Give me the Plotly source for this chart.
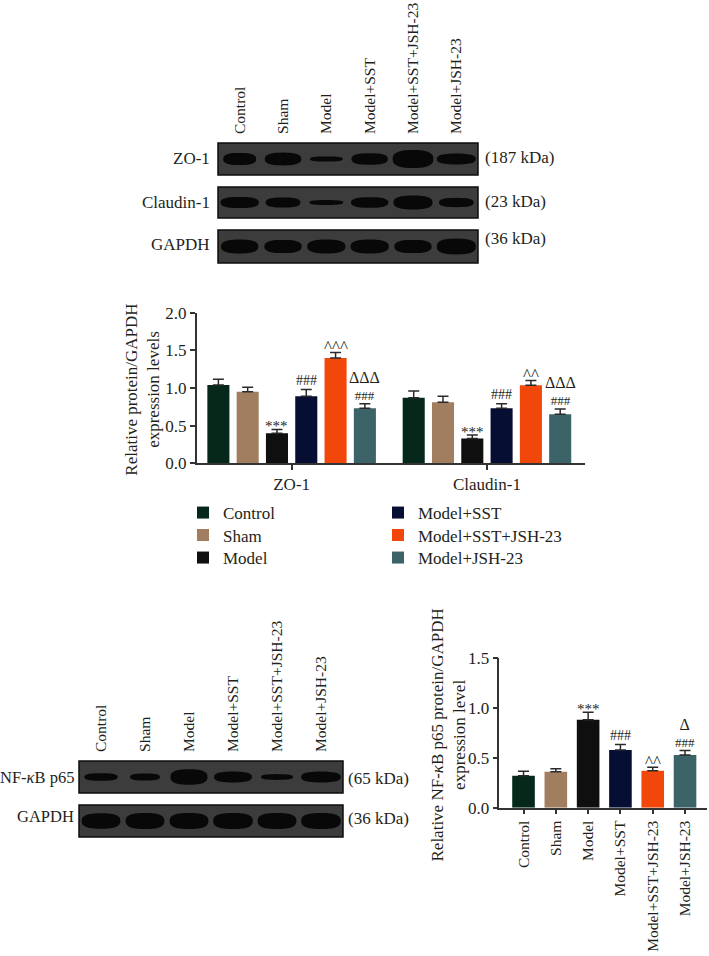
import numpy as np
import plotly.graph_objects as go

W, H = 709, 956

# ---------------- data ----------------
groups = ["Control", "Sham", "Model", "Model+SST", "Model+SST+JSH-23", "Model+JSH-23"]
colors = ["#05281b", "#a27e61", "#0f0f10", "#070e33", "#f1470b", "#3c6367"]

proteins = ["ZO-1", "Claudin-1"]
zo1_mean = [1.04, 0.95, 0.40, 0.89, 1.40, 0.73]
zo1_err = [0.075, 0.06, 0.05, 0.09, 0.07, 0.06]
cldn_mean = [0.87, 0.81, 0.33, 0.73, 1.035, 0.65]
cldn_err = [0.09, 0.08, 0.045, 0.06, 0.065, 0.07]
zo1_sig = ["", "", "***", "###", "^^^", "###"]
zo1_sig2 = ["", "", "", "", "", "ΔΔΔ"]
cldn_sig = ["", "", "***", "###", "^^", "###"]
cldn_sig2 = ["", "", "", "", "", "ΔΔΔ"]

nfkb_mean = [0.32, 0.36, 0.88, 0.577, 0.37, 0.527]
nfkb_err = [0.045, 0.03, 0.075, 0.055, 0.035, 0.045]
nfkb_sig = ["", "", "***", "###", "^^", "###"]
nfkb_sig2 = ["", "", "", "", "", "Δ"]

# western blot rows: band heights (fraction of strip), band widths (fraction of lane)
blot_top_rows = ["ZO-1", "Claudin-1", "GAPDH"]
blot_top_kda = ["(187 kDa)", "(23 kDa)", "(36 kDa)"]
zo1_band_h = [0.38, 0.40, 0.16, 0.36, 0.56, 0.34]
zo1_band_w = [0.76, 0.84, 0.76, 0.84, 0.94, 0.90]
cldn_band_h = [0.36, 0.33, 0.16, 0.34, 0.45, 0.30]
cldn_band_w = [0.88, 0.80, 0.78, 0.86, 0.90, 0.80]
gapdh1_band_h = [0.42, 0.40, 0.42, 0.42, 0.40, 0.48]
gapdh1_band_w = [0.86, 0.86, 0.88, 0.88, 0.86, 0.90]

blot_bot_rows = ["NF-<i>κ</i>B p65", "GAPDH"]
blot_bot_kda = ["(65 kDa)", "(36 kDa)"]
nfkb_band_h = [0.24, 0.22, 0.48, 0.34, 0.18, 0.34]
nfkb_band_w = [0.76, 0.68, 0.84, 0.86, 0.73, 0.90]
gapdh2_band_h = [0.48, 0.50, 0.50, 0.50, 0.50, 0.50]
gapdh2_band_w = [0.88, 0.88, 0.88, 0.90, 0.88, 0.90]

FONT = "Liberation Serif"
TXT = "#231f20"
FS = 17
FS_LANE = 15.5


def xd(a, b):
    return [a / W, b / W]


def yd(top, bottom):
    return [1 - bottom / H, 1 - top / H]


def py(p):
    return 1 - p / H


def band_path(cx, hw, hh, n=48, p=2.6):
    t = np.linspace(0, 2 * np.pi, n, endpoint=False)
    c, s = np.cos(t), np.sin(t)
    xs = cx + hw * np.sign(c) * np.abs(c) ** (2 / p)
    ys = hh * np.sign(s) * np.abs(s) ** (2 / p)
    return "M" + "L".join(f"{x:.4f},{y:.4f}" for x, y in zip(xs, ys)) + "Z"


# vertical offsets (px) of significance marks above the error-bar tops
SIG_SHIFT = {"***": 3, "###": 9, "^^^": 6, "^^": 6}
SIG_FS = {"***": 15, "###": 14, "^^^": 17, "^^": 17}


def sig_ann(x, y, xref, yref, text, upper=""):
    if upper:
        # stacked pair: upper symbol line over "###"
        return dict(x=x, y=y, xref=xref, yref=yref,
                    text=f"<span style='font-size:16px'>{upper}</span><br>{text}",
                    showarrow=False, yanchor="bottom", yshift=0, borderpad=0,
                    font=dict(family=FONT, size=13, color=TXT))
    return dict(x=x, y=y, xref=xref, yref=yref, text=text, showarrow=False,
                yanchor="middle", yshift=SIG_SHIFT[text],
                font=dict(family=FONT, size=SIG_FS[text], color=TXT))


fig = go.Figure()
annotations = []
shapes = []
legend_rows = [("legend", 183, 513), ("legend2", 183, 535.5), ("legend3", 183, 558),
               ("legend4", 378, 513), ("legend5", 378, 535.5), ("legend6", 378, 558)]

# ---------------- top grouped bar chart ----------------
pitch = 0.15
for i, g in enumerate(groups):
    off = (i - 2.5) * pitch
    fig.add_trace(go.Bar(
        x=[k + off for k in range(len(proteins))],
        y=[zo1_mean[i], cldn_mean[i]],
        width=0.113,
        name=g,
        marker=dict(color=colors[i], line=dict(width=0)),
        error_y=dict(type="data", array=[zo1_err[i], cldn_err[i]], arrayminus=[0, 0],
                     symmetric=False, color="#2a2a2a", thickness=1.5, width=5.5),
        xaxis="x", yaxis="y",
        legend=legend_rows[i][0],
        showlegend=True,
    ))
    for k, (m, e, s1, s2) in enumerate([(zo1_mean[i], zo1_err[i], zo1_sig[i], zo1_sig2[i]),
                                         (cldn_mean[i], cldn_err[i], cldn_sig[i], cldn_sig2[i])]):
        if s1:
            annotations.append(sig_ann(k + off, m + e, "x", "y", s1, s2))

# ---------------- bottom bar chart ----------------
for i, g in enumerate(groups):
    fig.add_trace(go.Bar(
        x=[g], y=[nfkb_mean[i]], width=0.7, name=g,
        marker=dict(color=colors[i], line=dict(width=0)),
        error_y=dict(type="data", array=[nfkb_err[i]], arrayminus=[0], symmetric=False,
                     color="#2a2a2a", thickness=1.5, width=5.5),
        xaxis="x2", yaxis="y2", showlegend=False,
    ))
    if nfkb_sig[i]:
        annotations.append(sig_ann(g, nfkb_mean[i] + nfkb_err[i], "x2", "y2",
                                   nfkb_sig[i], nfkb_sig2[i]))

# ---------------- western blots ----------------
blots = [
    ("3", (218, 478), (143, 175), zo1_band_h, zo1_band_w),
    ("4", (218, 478), (187, 218), cldn_band_h, cldn_band_w),
    ("5", (218, 478), (230, 263), gapdh1_band_h, gapdh1_band_w),
    ("6", (79, 343), (761, 793), nfkb_band_h, nfkb_band_w),
    ("7", (79, 343), (805, 837), gapdh2_band_h, gapdh2_band_w),
]
layout_axes = {}
for ax, xs, ys, bh, bw in blots:
    fig.add_trace(go.Scatter(x=[0, 5], y=[0, 0], mode="markers", marker=dict(opacity=0),
                             xaxis="x" + ax, yaxis="y" + ax, showlegend=False, hoverinfo="skip"))
    shapes.append(dict(type="rect", xref=f"x{ax} domain", yref=f"y{ax} domain",
                       x0=0, x1=1, y0=0, y1=1, fillcolor="#3c3c3c",
                       line=dict(color="#0c0c0c", width=1.5), layer="below"))
    for i in range(len(groups)):
        shapes.append(dict(type="path", xref="x" + ax, yref="y" + ax,
                           path=band_path(i, bw[i] / 2, bh[i]),
                           fillcolor="#080808", line=dict(width=0), layer="above"))
    is_top = ax in ("3", "6")
    layout_axes["xaxis" + ax] = dict(
        domain=xd(*xs), range=[-0.5, 5.5], anchor="y" + ax, automargin=False,
        visible=is_top, side="top", showline=False, showgrid=False, zeroline=False,
        ticks="", tickvals=list(range(len(groups))), ticktext=groups, tickangle=-90,
        ticklabelstandoff=8, tickfont=dict(family=FONT, size=FS_LANE, color=TXT), fixedrange=True)
    layout_axes["yaxis" + ax] = dict(domain=yd(*ys), range=[-1, 1], anchor="x" + ax,
                                     visible=False, fixedrange=True, automargin=False)

# blot row labels / weights
top_label_y = [158, 202.5, 245]
top_kda_y = [157, 202, 238]
for r, lab in enumerate(blot_top_rows):
    annotations.append(dict(x=212 / W, y=py(top_label_y[r]), xref="paper", yref="paper",
                            text=lab, showarrow=False, xanchor="right", yanchor="middle",
                            font=dict(family=FONT, size=FS, color=TXT)))
    annotations.append(dict(x=483 / W, y=py(top_kda_y[r]), xref="paper", yref="paper",
                            text=blot_top_kda[r], showarrow=False, xanchor="left", yanchor="middle",
                            font=dict(family=FONT, size=FS, color=TXT)))
bot_label_y = [777, 816]
bot_kda_y = [778, 818]
for r, lab in enumerate(blot_bot_rows):
    annotations.append(dict(x=76 / W, y=py(bot_label_y[r]), xref="paper", yref="paper",
                            text=lab, showarrow=False, xanchor="right", yanchor="middle",
                            font=dict(family=FONT, size=16.5, color=TXT)))
    annotations.append(dict(x=346 / W, y=py(bot_kda_y[r]), xref="paper", yref="paper",
                            text=blot_bot_kda[r], showarrow=False, xanchor="left", yanchor="middle",
                            font=dict(family=FONT, size=FS, color=TXT)))

# y titles
annotations.append(dict(x=141.7 / W, y=py(390), xref="paper", yref="paper",
                        text="Relative protein/GAPDH<br>expression levels", textangle=-90,
                        showarrow=False, xanchor="center", yanchor="middle",
                        font=dict(family=FONT, size=FS, color=TXT)))
annotations.append(dict(x=447.5 / W, y=py(735), xref="paper", yref="paper",
                        text="Relative NF-<i>κ</i>B p65 protein/GAPDH<br>expression level", textangle=-90,
                        showarrow=False, xanchor="center", yanchor="middle",
                        font=dict(family=FONT, size=FS, color=TXT)))

axis_common = dict(showline=True, linecolor="#333333", linewidth=1.5, showgrid=False,
                   zeroline=False, tickcolor="#333333", tickwidth=1.5, automargin=False,
                   fixedrange=True)

legends = {}
for name, lx, ly in legend_rows:
    legends[name] = dict(x=lx / W, y=py(ly), xanchor="left", yanchor="middle", orientation="v",
                         font=dict(family=FONT, size=FS, color=TXT), bgcolor="rgba(0,0,0,0)",
                         itemclick=False, itemdoubleclick=False)

fig.update_layout(
    width=W, height=H, margin=dict(l=0, r=0, t=0, b=0, autoexpand=False),
    paper_bgcolor="white", plot_bgcolor="rgba(0,0,0,0)",
    barmode="overlay",
    font=dict(family=FONT, size=FS, color=TXT),
    xaxis=dict(domain=xd(196.7, 585), range=[-0.486, 1.502], anchor="y",
               tickvals=list(range(len(proteins))), ticktext=proteins,
               ticks="outside", ticklen=5, tickfont=dict(family=FONT, size=FS, color=TXT),
               **axis_common),
    yaxis=dict(domain=yd(312.7, 463.3), range=[0, 2.0], anchor="x", dtick=0.5,
               tickformat=".1f", ticks="outside", ticklen=5,
               tickfont=dict(family=FONT, size=FS, color=TXT), **axis_common),
    xaxis2=dict(domain=xd(499.3, 707), range=[-0.75, 5.68], anchor="y2", type="category",
                categoryorder="array", categoryarray=groups, tickangle=-90,
                ticks="outside", ticklen=5, tickfont=dict(family=FONT, size=FS_LANE, color=TXT),
                **axis_common),
    yaxis2=dict(domain=yd(657.7, 807.7), range=[0, 1.5], anchor="x2", dtick=0.5,
                tickformat=".1f", ticks="outside", ticklen=5,
                tickfont=dict(family=FONT, size=FS, color=TXT), **axis_common),
    annotations=annotations,
    shapes=shapes,
    **legends,
    **layout_axes,
)

fig.write_html("out.html", config={"displayModeBar": False},
               post_script="document.body.style.margin='0';")
